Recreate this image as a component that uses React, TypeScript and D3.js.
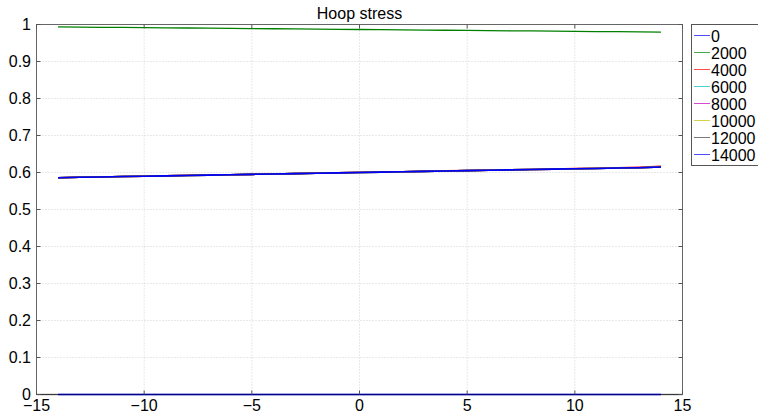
import React from "react";
import * as d3 from "d3";

// Positions along the pipe (x) at which hoop stress was sampled
const positions = [-14, -13, -12, -11, -10, -9, -8, -7, -6, -5, -4, -3, -2, -1, 0, 1, 2, 3, 4, 5, 6, 7, 8, 9, 10, 11, 12, 13, 14];

// Series labels (time steps) in legend order
const seriesNames = ["0", "2000", "4000", "6000", "8000", "10000", "12000", "14000"];
const seriesColors = ["#0000ff", "#008000", "#ff0000", "#00bfbf", "#bf00bf", "#bfbf00", "#404040", "#0000ff"];

const stress0 = [0, 0, 0, 0, 0, 0, 0, 0, 0, 0, 0, 0, 0, 0, 0, 0, 0, 0, 0, 0, 0, 0, 0, 0, 0, 0, 0, 0, 0];
const stress2000 = [0.9935, 0.993, 0.9925, 0.992, 0.9915, 0.991, 0.9905, 0.99, 0.9895, 0.989, 0.9885, 0.988, 0.9875, 0.987, 0.9865, 0.986, 0.9855, 0.985, 0.9845, 0.984, 0.9835, 0.983, 0.9825, 0.982, 0.9815, 0.981, 0.9805, 0.98, 0.9795];
const stress4000 = [0.586, 0.5875, 0.588, 0.589, 0.590, 0.591, 0.5925, 0.5935, 0.594, 0.595, 0.596, 0.597, 0.5985, 0.5995, 0.6005, 0.601, 0.602, 0.6035, 0.6045, 0.6055, 0.6065, 0.6075, 0.608, 0.609, 0.6105, 0.6115, 0.6125, 0.614, 0.6165];
const stress14000 = [0.586, 0.587, 0.588, 0.589, 0.590, 0.591, 0.592, 0.593, 0.594, 0.595, 0.596, 0.597, 0.598, 0.599, 0.600, 0.601, 0.602, 0.603, 0.604, 0.605, 0.606, 0.607, 0.608, 0.609, 0.610, 0.611, 0.612, 0.613, 0.615];
const stress6000 = stress14000;
const stress8000 = stress14000;
const stress10000 = stress14000;
const stress12000 = stress14000;

const seriesValues = [stress0, stress2000, stress4000, stress6000, stress8000, stress10000, stress12000, stress14000];

const xTicks = [-15, -10, -5, 0, 5, 10, 15];
const yTicks = [0, 0.1, 0.2, 0.3, 0.4, 0.5, 0.6, 0.7, 0.8, 0.9, 1];

const W = 758;
const H = 413;
const left = 36.5;
const right = 682.5;
const top = 24.5;
const bottom = 394.5;
const font = "'Liberation Sans', Arial, Helvetica, sans-serif";
const fs = 16;

export default function App() {
  const x = d3.scaleLinear().domain([-15, 15]).range([left, right]);
  const y = d3.scaleLinear().domain([0, 1]).range([bottom, top]);
  const line = d3
    .line<[number, number]>()
    .x((d) => x(d[0]))
    .y((d) => y(d[1]));
  const fmt = (v: number) => (v < 0 ? "\u2212" + Math.abs(v) : String(v));

  return (
    <svg width={W} height={H} style={{ position: "absolute", left: 0, top: 0, background: "#fff" }}>
      <rect x={0} y={0} width={W} height={H} fill="#fff" />
      {/* grid */}
      {xTicks.slice(1, -1).map((t) => (
        <line key={"gx" + t} x1={x(t)} x2={x(t)} y1={top} y2={bottom} stroke="#c8c8c8" strokeWidth={0.8} strokeDasharray="1,2" />
      ))}
      {yTicks.slice(1, -1).map((t) => (
        <line key={"gy" + t} x1={left} x2={right} y1={y(t)} y2={y(t)} stroke="#c8c8c8" strokeWidth={0.8} strokeDasharray="1,2" />
      ))}
      {/* frame */}
      <rect x={left} y={top} width={right - left} height={bottom - top} fill="none" stroke="#666" strokeWidth={1} />
      {/* series */}
      {seriesValues.map((vals, i) => (
        <path
          key={seriesNames[i]}
          d={line(positions.map((p, j) => [p, vals[j]] as [number, number])) || ""}
          fill="none"
          stroke={seriesColors[i]}
          strokeWidth={i === 1 ? 1.3 : 1.6}
        />
      ))}
      {/* axis line over the zero level */}
      <line x1={left} x2={right} y1={bottom} y2={bottom} stroke="#000" strokeOpacity={0.45} strokeWidth={1.6} />
      {/* ticks */}
      {xTicks.map((t) => (
        <g key={"tx" + t}>
          <line x1={x(t)} x2={x(t)} y1={bottom} y2={bottom - 4} stroke="#555" />
          <line x1={x(t)} x2={x(t)} y1={top} y2={top + 4} stroke="#555" />
          <text x={x(t)} y={bottom + 16.5} fontSize={fs} fontFamily={font} textAnchor="middle">
            {fmt(t)}
          </text>
        </g>
      ))}
      {yTicks.map((t) => (
        <g key={"ty" + t}>
          <line x1={left} x2={left + 4} y1={y(t)} y2={y(t)} stroke="#555" />
          <line x1={right} x2={right - 4} y1={y(t)} y2={y(t)} stroke="#555" />
          <text x={31} y={y(t) + 5.5} fontSize={fs} fontFamily={font} textAnchor="end">
            {String(+t.toFixed(1))}
          </text>
        </g>
      ))}
      <text x={(left + right) / 2} y={19} fontSize={fs} fontFamily={font} textAnchor="middle">
        Hoop stress
      </text>
      {/* legend */}
      <rect x={691.5} y={24.5} width={80} height={141} fill="#fff" stroke="#555" strokeWidth={1} />
      {seriesNames.map((n, i) => (
        <g key={"lg" + n}>
          <line x1={694} x2={710} y1={35.5 + i * 17} y2={35.5 + i * 17} stroke={seriesColors[i]} strokeOpacity={0.7} strokeWidth={1} />
          <text x={711} y={41.5 + i * 17} fontSize={fs} fontFamily={font}>
            {n}
          </text>
        </g>
      ))}
    </svg>
  );
}
